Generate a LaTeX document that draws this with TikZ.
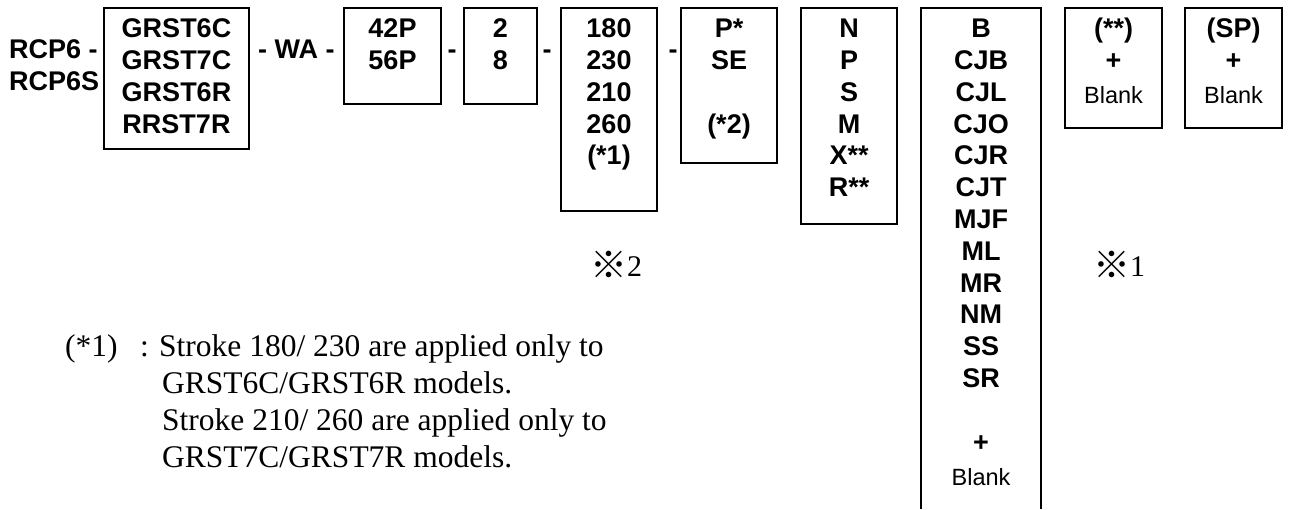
\documentclass[tikz,border=0pt]{standalone}
\usepackage{fontspec}
\setmainfont{Liberation Serif}
\newfontfamily\arialf{Liberation Sans}
\newfontfamily\cjkf{Noto Sans CJK SC}
\begin{document}
\begin{tikzpicture}[x=1pt,y=-1pt,
  boxst/.style={draw, line width=1.8pt, inner sep=0, outer sep=0, anchor=north west},
  openbox/.style={inner sep=0, outer sep=0, anchor=north west},
  lines/.style={anchor=base, inner sep=0, font=\arialf\bfseries\fontsize{27}{31.8}\selectfont},
  hyph/.style={anchor=base, inner sep=0, font=\arialf\bfseries\fontsize{27}{31.8}\selectfont},
  note/.style={anchor=base west, inner sep=0, font=\fontsize{31.5}{37}\selectfont},
  refmark/.style={anchor=base west, inner sep=0, font=\fontsize{30}{36}\selectfont}
]
\useasboundingbox (0,0) rectangle (1289,509);
\fill[white] (0,0) rectangle (1289,509);
\newcommand{\blk}{{\mdseries\fontsize{23.5}{31.8}\selectfont Blank}}
\newcommand{\kome}{\raisebox{-2.5pt}{\cjkf\fontsize{37}{40}\selectfont ※}}

% prefix
\node[hyph, anchor=base west] (p1) at (9,58) {RCP6 -};
\node[hyph, anchor=base west] (p2) at (9,90) {RCP6S};

% boxes
\node[boxst, minimum width=145, minimum height=141] (b1) at (104,8) {};
\node[boxst, minimum width=97, minimum height=96] (b2) at (344,8) {};
\node[boxst, minimum width=73, minimum height=96] (b3) at (464,8) {};
\node[boxst, minimum width=96, minimum height=203] (b4) at (561,8) {};
\node[boxst, minimum width=96, minimum height=155] (b5) at (681,8) {};
\node[boxst, minimum width=96, minimum height=216] (b6) at (801,8) {};
\node[openbox, minimum width=120, minimum height=501] (b7) at (921,8) {};
\draw[line width=1.8pt] (b7.south west) -- (b7.north west) -- (b7.north east) -- (b7.south east);
\node[boxst, minimum width=97, minimum height=120] (b8) at (1065,8) {};
\node[boxst, minimum width=97, minimum height=120] (b9) at (1185,8) {};

% separators
\node[hyph, anchor=base west] (s1) at (258,58) {- WA -};
\node[hyph] (s2) at (452,58) {-};
\node[hyph] (s3) at (547,58) {-};
\node[hyph] (s4) at (673,58) {-};

% box texts
\node[lines] (t1) at ([yshift=-29.7]b1.north) {\parbox[t]{140pt}{\centering GRST6C\\GRST7C\\GRST6R\\RRST7R}};
\node[lines] (t2) at ([yshift=-29.7]b2.north) {\parbox[t]{90pt}{\centering 42P\\56P}};
\node[lines] (t3) at ([yshift=-29.7]b3.north) {\parbox[t]{70pt}{\centering 2\\8}};
\node[lines] (t4) at ([yshift=-29.7]b4.north) {\parbox[t]{90pt}{\centering 180\\230\\210\\260\\(*1)}};
\node[lines] (t5) at ([yshift=-29.7]b5.north) {\parbox[t]{90pt}{\centering P*\\SE\\\mbox{}\\(*2)}};
\node[lines] (t6) at ([yshift=-29.7]b6.north) {\parbox[t]{90pt}{\centering N\\P\\S\\M\\X**\\R**}};
\node[lines] (t7) at ([yshift=-29.7]b7.north) {\parbox[t]{115pt}{\centering B\\CJB\\CJL\\CJO\\CJR\\CJT\\MJF\\ML\\MR\\NM\\SS\\SR\\\mbox{}\\+\\[2.5pt]\blk}};
\node[lines] (t8) at ([yshift=-29.7]b8.north) {\parbox[t]{95pt}{\centering (**)\\+\\[2.5pt]\blk}};
\node[lines] (t9) at ([yshift=-29.7]b9.north) {\parbox[t]{95pt}{\centering (SP)\\+\\[2.5pt]\blk}};

% reference marks
\node[refmark] (m2) at (590,276) {\kome 2};
\node[refmark] (m1) at (1093,276) {\kome 1};

% note
\node[note] (n1) at (65,356) {(*1)};
\node[note] (n2) at (140,356) {:};
\node[note] (n3) at (159,356) {Stroke 180/ 230 are applied only to};
\node[note] (n4) at (162,393) {\parbox[t]{600pt}{\raggedright GRST6C/GRST6R models.\\Stroke 210/ 260 are applied only to\\GRST7C/GRST7R models.}};
\end{tikzpicture}
\end{document}
